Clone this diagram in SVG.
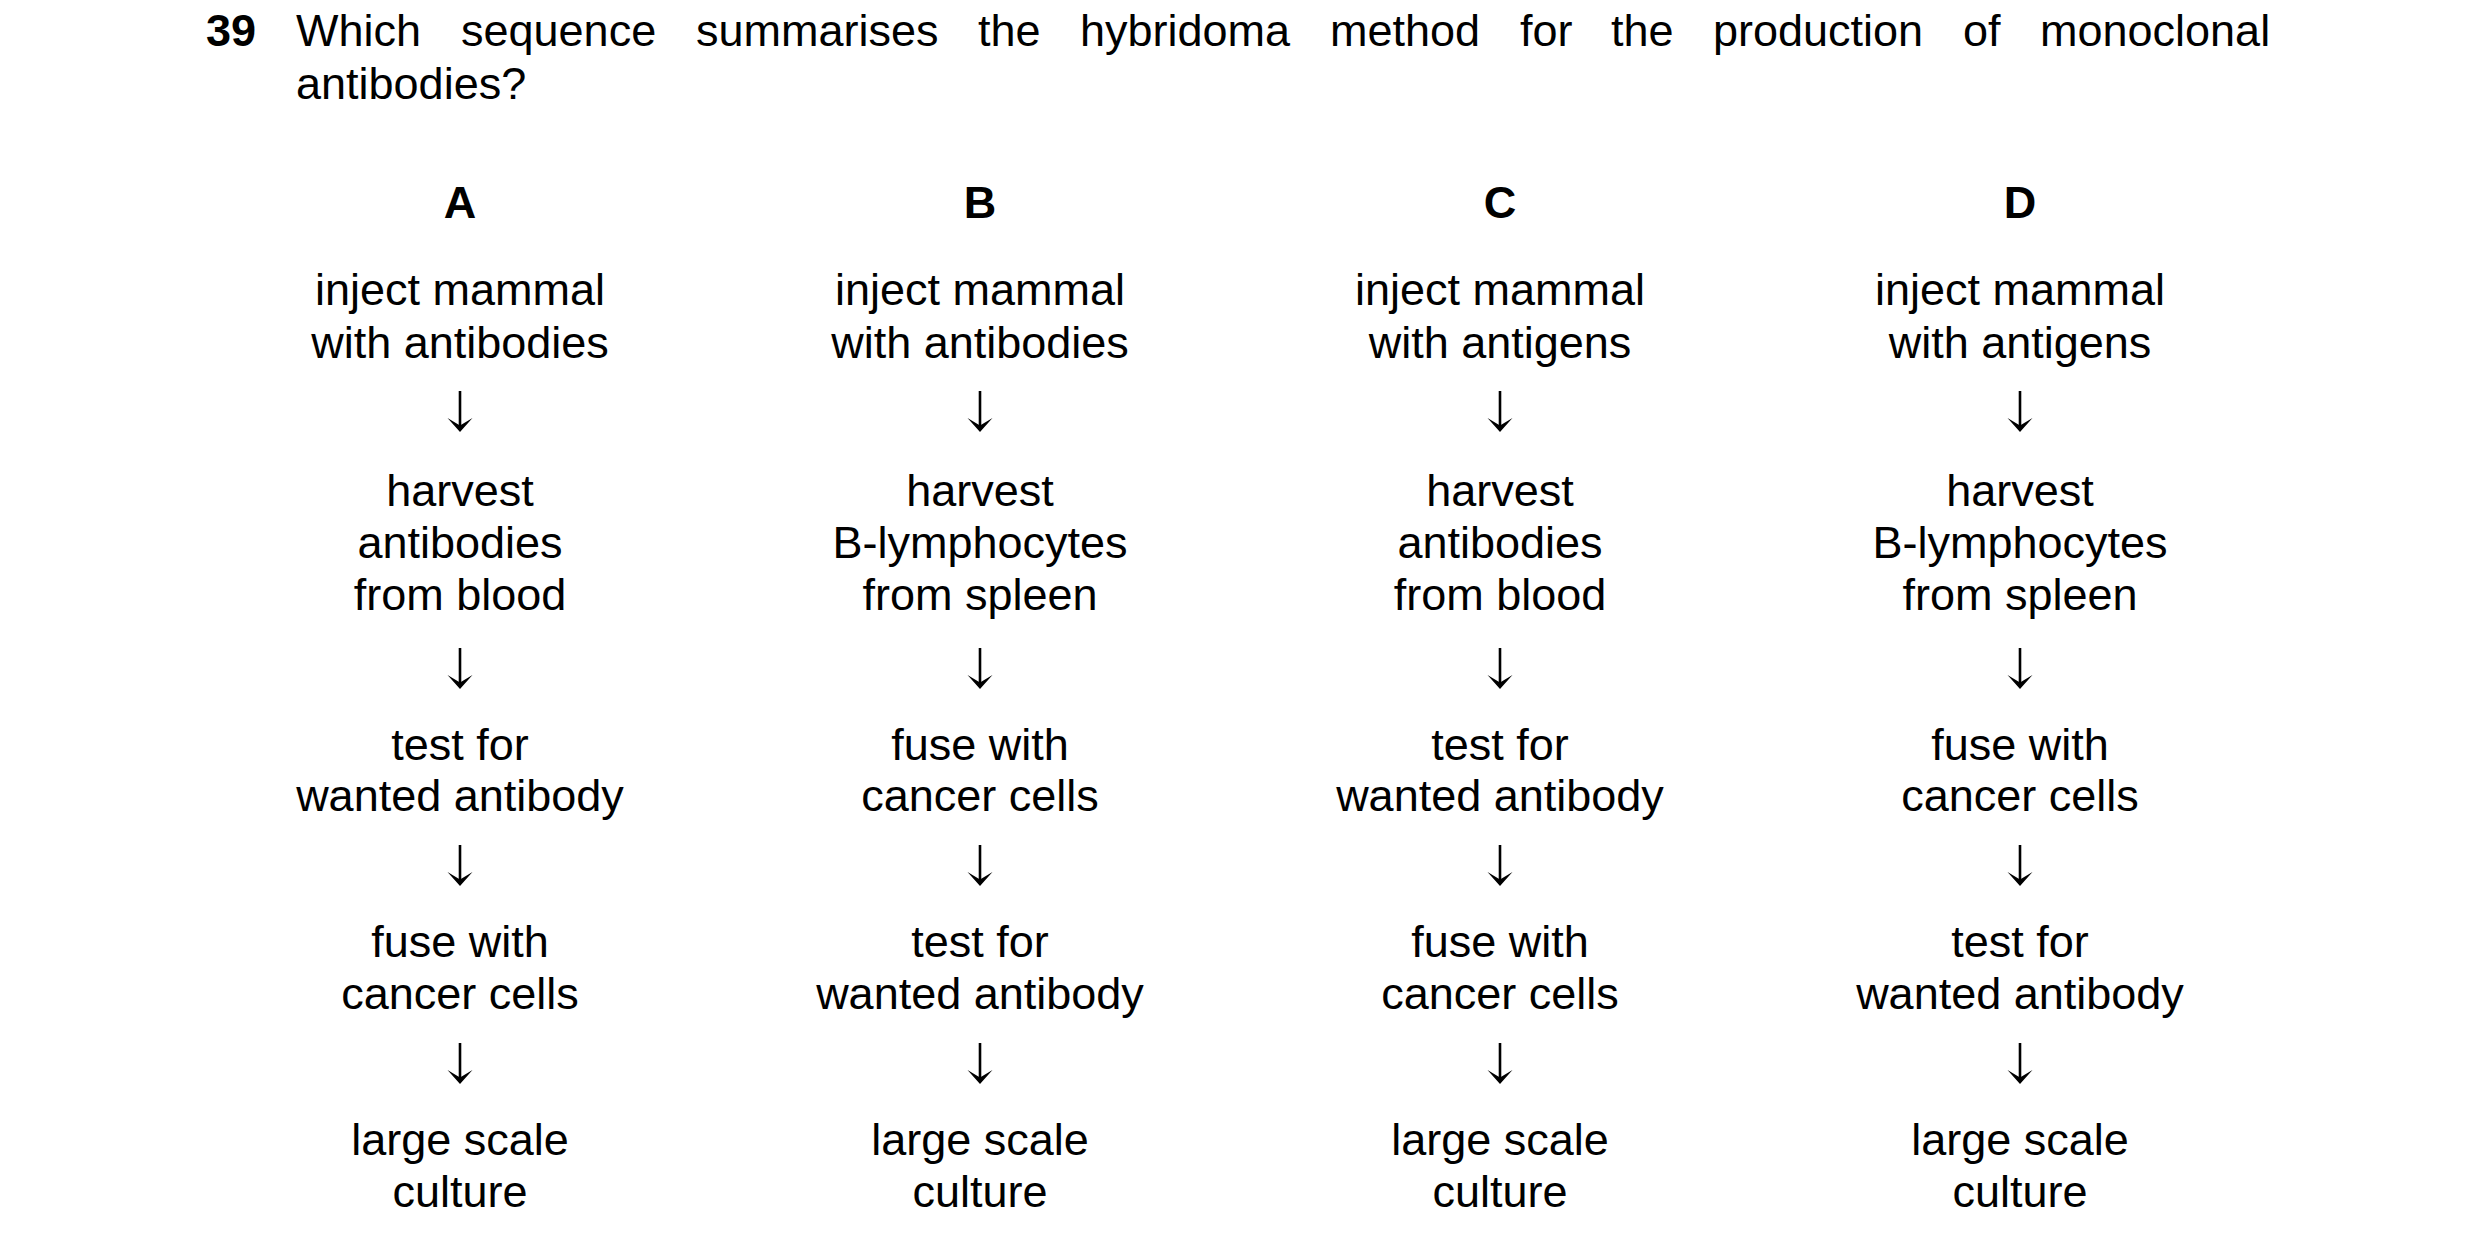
<svg xmlns="http://www.w3.org/2000/svg" width="2480" height="1248" viewBox="0 0 2480 1248">
<defs>
<style>
text{font-family:"Liberation Sans",Arial,sans-serif;font-size:45px;fill:#000}
.b{font-weight:bold}
.c{text-anchor:middle}
.stem{stroke:#000;stroke-width:2.6;fill:none}
.head{fill:#000;stroke:none}
</style>
<g id="arr">
<line class="stem" x1="0" y1="0" x2="0" y2="36"/>
<path class="head" d="M0,41 L-12.5,27 L0,34.5 L12.5,27 Z"/>
</g>
</defs>
<rect width="2480" height="1248" fill="#fff"/>
<g id="question">
<text class="b" x="206" y="46">39</text>
<text y="46"><tspan x="296">Which</tspan><tspan x="461">sequence</tspan><tspan x="696">summarises</tspan><tspan x="978">the</tspan><tspan x="1080">hybridoma</tspan><tspan x="1330">method</tspan><tspan x="1520">for</tspan><tspan x="1611">the</tspan><tspan x="1713">production</tspan><tspan x="1963">of</tspan><tspan x="2040">monoclonal</tspan></text>
<text x="296" y="99">antibodies?</text>
</g>
<g id="labels">
<text class="b c" x="460" y="218">A</text>
<text class="b c" x="980" y="218">B</text>
<text class="b c" x="1500" y="218">C</text>
<text class="b c" x="2020" y="218">D</text>
</g>
<g id="colA">
<g id="A1"><text class="c" x="460" y="305">inject mammal</text><text class="c" x="460" y="358">with antibodies</text></g>
<g id="A2"><text class="c" x="460" y="506">harvest</text><text class="c" x="460" y="558">antibodies</text><text class="c" x="460" y="610">from blood</text></g>
<g id="A3"><text class="c" x="460" y="760">test for</text><text class="c" x="460" y="811">wanted antibody</text></g>
<g id="A4"><text class="c" x="460" y="957">fuse with</text><text class="c" x="460" y="1009">cancer cells</text></g>
<g id="A5"><text class="c" x="460" y="1155">large scale</text><text class="c" x="460" y="1207">culture</text></g>
</g>
<g id="colB">
<g id="B1"><text class="c" x="980" y="305">inject mammal</text><text class="c" x="980" y="358">with antibodies</text></g>
<g id="B2"><text class="c" x="980" y="506">harvest</text><text class="c" x="980" y="558">B-lymphocytes</text><text class="c" x="980" y="610">from spleen</text></g>
<g id="B3"><text class="c" x="980" y="760">fuse with</text><text class="c" x="980" y="811">cancer cells</text></g>
<g id="B4"><text class="c" x="980" y="957">test for</text><text class="c" x="980" y="1009">wanted antibody</text></g>
<g id="B5"><text class="c" x="980" y="1155">large scale</text><text class="c" x="980" y="1207">culture</text></g>
</g>
<g id="colC">
<g id="C1"><text class="c" x="1500" y="305">inject mammal</text><text class="c" x="1500" y="358">with antigens</text></g>
<g id="C2"><text class="c" x="1500" y="506">harvest</text><text class="c" x="1500" y="558">antibodies</text><text class="c" x="1500" y="610">from blood</text></g>
<g id="C3"><text class="c" x="1500" y="760">test for</text><text class="c" x="1500" y="811">wanted antibody</text></g>
<g id="C4"><text class="c" x="1500" y="957">fuse with</text><text class="c" x="1500" y="1009">cancer cells</text></g>
<g id="C5"><text class="c" x="1500" y="1155">large scale</text><text class="c" x="1500" y="1207">culture</text></g>
</g>
<g id="colD">
<g id="D1"><text class="c" x="2020" y="305">inject mammal</text><text class="c" x="2020" y="358">with antigens</text></g>
<g id="D2"><text class="c" x="2020" y="506">harvest</text><text class="c" x="2020" y="558">B-lymphocytes</text><text class="c" x="2020" y="610">from spleen</text></g>
<g id="D3"><text class="c" x="2020" y="760">fuse with</text><text class="c" x="2020" y="811">cancer cells</text></g>
<g id="D4"><text class="c" x="2020" y="957">test for</text><text class="c" x="2020" y="1009">wanted antibody</text></g>
<g id="D5"><text class="c" x="2020" y="1155">large scale</text><text class="c" x="2020" y="1207">culture</text></g>
</g>
<g id="connectors">
<use href="#arr" x="460" y="391"/><use href="#arr" x="460" y="648"/><use href="#arr" x="460" y="845"/><use href="#arr" x="460" y="1043"/>
<use href="#arr" x="980" y="391"/><use href="#arr" x="980" y="648"/><use href="#arr" x="980" y="845"/><use href="#arr" x="980" y="1043"/>
<use href="#arr" x="1500" y="391"/><use href="#arr" x="1500" y="648"/><use href="#arr" x="1500" y="845"/><use href="#arr" x="1500" y="1043"/>
<use href="#arr" x="2020" y="391"/><use href="#arr" x="2020" y="648"/><use href="#arr" x="2020" y="845"/><use href="#arr" x="2020" y="1043"/>
</g>
</svg>
